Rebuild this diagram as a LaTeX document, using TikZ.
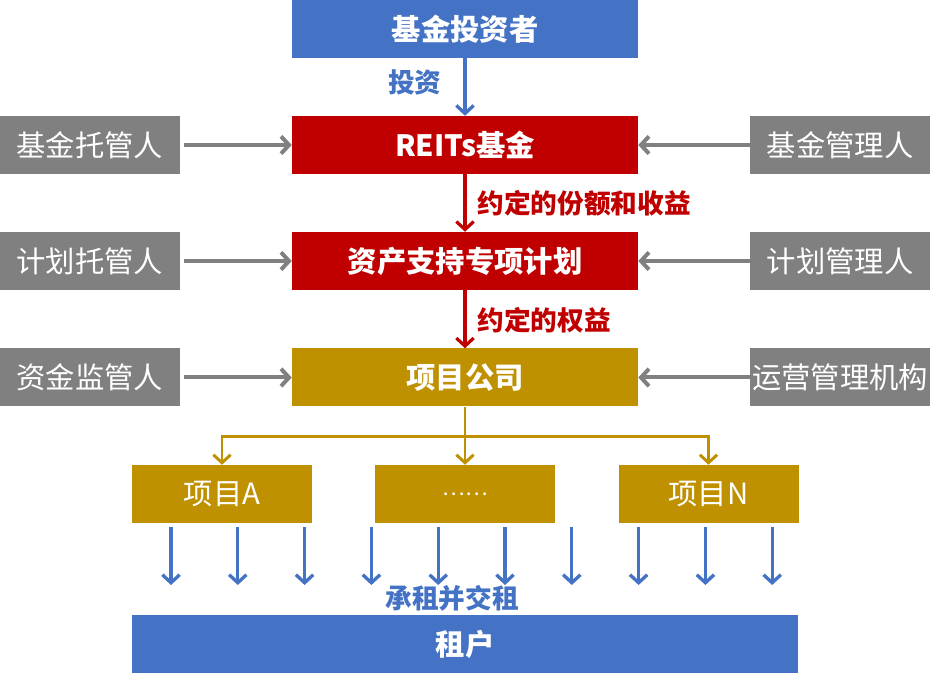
\documentclass[tikz,border=0pt]{standalone}
\usepackage{fontspec}
\setmainfont{Noto Sans CJK SC}
\usepackage{xcolor}
\usetikzlibrary{arrows.meta}
\definecolor{fillBlue}{RGB}{68,114,196}
\definecolor{fillRed}{RGB}{192,0,0}
\definecolor{fillGold}{RGB}{191,144,0}
\definecolor{fillGray}{RGB}{128,128,128}

\begin{document}
\begin{tikzpicture}[x=0.75pt, y=-0.75pt,
    box/.style={inner sep=0pt, minimum height=43.5pt, text=white,
        font=\fontsize{22}{24}\selectfont},
    mainbox/.style={box, minimum width=259.5pt, font=\bfseries\fontsize{22}{24}\selectfont},
    sidebox/.style={box, fill=fillGray, minimum width=135pt},
    projbox/.style={box, fill=fillGold, minimum width=135pt},
    flowlabel/.style={font=\bfseries\fontsize{20}{22}\selectfont, inner sep=1pt},
    tip/.style={-{Straight Barb[length=6pt, width=13pt]}},
    grayarr/.style={tip, draw=fillGray, line width=3pt},
    redarr/.style={tip, draw=fillRed, line width=2.4pt},
    goldarr/.style={tip, draw=fillGold, line width=2.2pt},
    bluearr/.style={tip, draw=fillBlue, line width=2.5pt}]
\useasboundingbox (0,0) rectangle (943,673);

% Main chain
\node[mainbox, fill=fillBlue] (investor) at (465,29)    {基金投资者};
\node[mainbox, fill=fillRed]  (fund)     at (465,145)   {REITs基金};
\node[mainbox, fill=fillRed]  (plan)     at (465,261)   {资产支持专项计划};
\node[mainbox, fill=fillGold] (company)  at (465,377.5) {项目公司};

\draw[bluearr] (investor) -- (fund);
\draw[redarr]  (fund) -- (plan);
\draw[redarr]  (plan) -- (company);

\node[flowlabel, text=fillBlue, anchor=east] (lblInvest) at (443,82)  {投资};
\node[flowlabel, text=fillRed, anchor=west]  (lblShare)  at (476,203) {约定的份额和收益};
\node[flowlabel, text=fillRed, anchor=west]  (lblRight)  at (476,320) {约定的权益};

% Side parties
\node[sidebox] (fundCustody) at (90,145)   {基金托管人};
\node[sidebox] (planCustody) at (90,261)   {计划托管人};
\node[sidebox] (cashCustody) at (90,377.5) {资金监管人};
\node[sidebox] (fundManager) at (840,145)   {基金管理人};
\node[sidebox] (planManager) at (840,261)   {计划管理人};
\node[sidebox] (opManager)   at (840,377.5) {运营管理机构};

\draw[grayarr, shorten <=3pt] (fundCustody) -- (fund);
\draw[grayarr, shorten <=3pt] (planCustody) -- (plan);
\draw[grayarr, shorten <=3pt] (cashCustody) -- (company);
\draw[grayarr] (fundManager) -- (fund);
\draw[grayarr] (planManager) -- (plan);
\draw[grayarr] (opManager) -- (company);

% Projects
\node[projbox] (projA)   at (222,494)   {项目A};
\node[projbox, font=\fontsize{16}{18}\selectfont] (projMid) at (465,494) {……};
\node[projbox] (projN)   at (708.5,494) {项目N};

\draw[draw=fillGold, line width=2.2pt] (company.south) -- ++(0,30) coordinate (split);
\draw[goldarr] (split) -| (projA.north);
\draw[goldarr] (split) -- (projMid.north);
\draw[goldarr] (split) -| (projN.north);

% Tenants
\node[box, fill=fillBlue, minimum width=499.5pt,
    font=\bfseries\fontsize{22}{24}\selectfont] (tenant) at (465,644) {租户};
\foreach \i in {0,...,9}
    \draw[bluearr] ({171+66.8*\i},527) -- ++(0,58);
\node[flowlabel, text=fillBlue] (lblRent) at (452,598) {承租并交租};

\end{tikzpicture}
\end{document}
